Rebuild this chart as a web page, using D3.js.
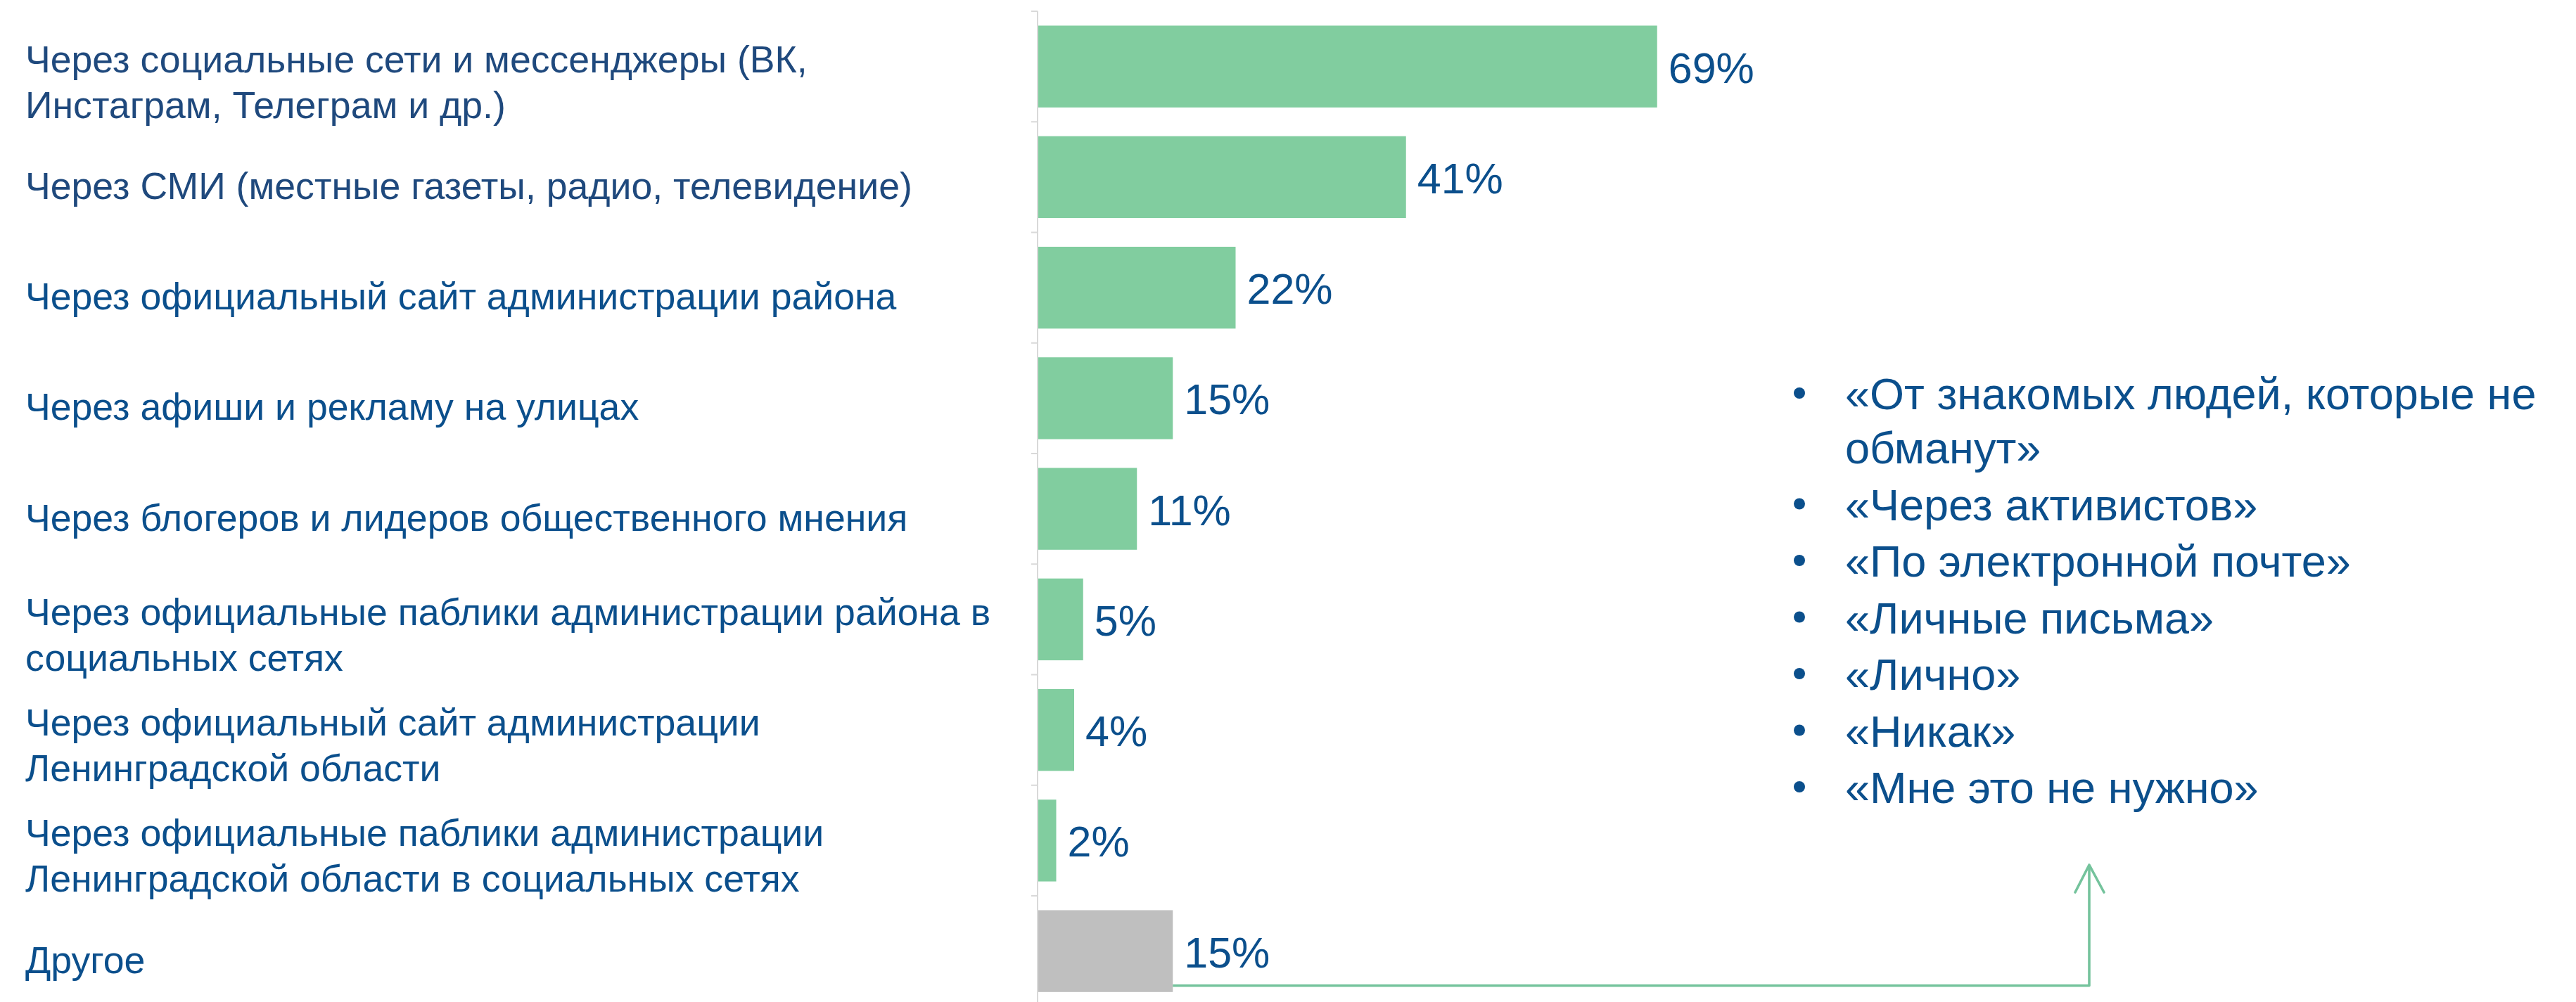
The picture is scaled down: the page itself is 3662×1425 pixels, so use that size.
<!DOCTYPE html>
<html>
<head>
<meta charset="utf-8">
<script src="https://cdn.jsdelivr.net/npm/d3@7"></script>
<style>
  body { margin: 0; background: #fff; }
  text { font-family: "Liberation Sans", Arial, sans-serif; }
</style>
</head>
<body>
<div class="chart"></div>
<script>
// Horizontal bar chart: how respondents get news, % of answers.
// Category names keep their manual line breaks ("\n").
var categories = [
  'Через социальные сети и мессенджеры (ВК,\nИнстаграм, Телеграм и др.)',
  'Через СМИ (местные газеты, радио, телевидение)',
  'Через официальный сайт администрации района',
  'Через афиши и рекламу на улицах',
  'Через блогеров и лидеров общественного мнения',
  'Через официальные паблики администрации района в\nсоциальных сетях',
  'Через официальный сайт администрации\nЛенинградской области',
  'Через официальные паблики администрации\nЛенинградской области в социальных сетях',
  'Другое'
]
var values = [69, 41, 22, 15, 11, 5, 4, 2, 15]
var otherCategory = 'Другое'

// open answers behind "Другое"
var otherAnswers = [
  '«От знакомых людей, которые не\nобманут»',
  '«Через активистов»',
  '«По электронной почте»',
  '«Личные письма»',
  '«Лично»',
  '«Никак»',
  '«Мне это не нужно»'
]

var W = 3662, H = 1425
var GREEN = '#81cd9f', GREY = '#bfbfbf', ARROW = '#74c39c'
var NAVY = '#1f497d', BLUE = '#0b4f8c', AXIS = '#d9d9d9'

var svg = d3.select('.chart').append('svg')
  .attr('width', W).attr('height', H)

var margin = {top: 16, left: 1476}
var c = svg.append('g').attr('transform', 'translate(' + margin.left + ',' + margin.top + ')')

// ---- scales ---- (1% ~ 12.75px; band step ~157px)
var x = d3.scaleLinear().domain([0, 100]).range([0, 1275])
var y = d3.scaleBand().domain(categories)
  .range([0, categories.length * 157.25])
  .paddingInner(0.26).paddingOuter(0.13)
var bw = y.bandwidth()

// ---- axis: thin grey line with ticks at the band boundaries ----
c.append('line')
  .attr('x1', -1).attr('x2', -1).attr('y1', 0).attr('y2', H)
  .attr('stroke', AXIS).attr('stroke-width', 2)
c.selectAll('line.tick').data(categories).enter().append('line')
  .attr('class', 'tick')
  .attr('x1', -10).attr('x2', -1)
  .attr('y1', function(d){ return y(d) - y.paddingOuter() * y.step() })
  .attr('y2', function(d){ return y(d) - y.paddingOuter() * y.step() })
  .attr('stroke', AXIS).attr('stroke-width', 2)

// ---- bars ----
c.selectAll('rect.bar').data(categories).enter().append('rect')
  .attr('class', 'bar')
  .attr('x', 0)
  .attr('y', function(d){ return y(d) })
  .attr('width', function(d, i){ return x(values[i]) })
  .attr('height', bw)
  .attr('fill', function(d){ return d == otherCategory ? GREY : GREEN })

// ---- value labels ----
c.selectAll('text.val').data(categories).enter().append('text')
  .attr('class', 'val')
  .attr('x', function(d, i){ return x(values[i]) + 16 })
  .attr('y', function(d){ return y(d) + bw / 2 + 23 })
  .attr('font-size', 61)
  .attr('fill', BLUE)
  .text(function(d, i){ return values[i] + '%' })

// ---- category labels (left, multi-line) ----
var LABEL_SIZE = 53.6, LABEL_LH = 65
categories.forEach(function(d, i){
  var lines = d.split('\n')
  var base = margin.top + y(d) + bw / 2 + 31 - (lines.length - 1) * 23
  var t = svg.append('text')
    .attr('x', 36).attr('y', base)
    .attr('font-size', LABEL_SIZE)
    .attr('fill', i < 2 ? NAVY : BLUE)
  lines.forEach(function(l, k){
    t.append('tspan').attr('x', 36).attr('y', base + k * LABEL_LH).text(l)
  })
})

// ---- arrow from "Другое" up to the list of open answers ----
var arrowX = 2970, arrowTip = 1230
var ay = margin.top + y(otherCategory) + bw - 9
svg.append('path')
  .attr('d', 'M' + (margin.left + x(values[categories.indexOf(otherCategory)])) + ',' + ay +
    'H' + arrowX + 'V' + arrowTip)
  .attr('fill', 'none').attr('stroke', ARROW).attr('stroke-width', 3.6)
  .attr('stroke-linejoin', 'round')
svg.append('path')
  .attr('d', 'M' + (arrowX - 20) + ',' + (arrowTip + 39) + 'L' + arrowX + ',' + arrowTip +
    'L' + (arrowX + 21) + ',' + (arrowTip + 39))
  .attr('fill', 'none').attr('stroke', ARROW).attr('stroke-width', 3.6)
  .attr('stroke-linecap', 'round').attr('stroke-linejoin', 'round')

// ---- bulleted list ----
var BUL_X = 2558, TXT_X = 2623, LIST_TOP = 582, LIST_LH = 77, ITEM_GAP = 3.5
var by = LIST_TOP
var list = svg.append('g')
otherAnswers.forEach(function(s){
  var lines = s.split('\n')
  list.append('circle')
    .attr('cx', BUL_X).attr('cy', by - 23).attr('r', 8).attr('fill', BLUE)
  lines.forEach(function(l, k){
    list.append('text')
      .attr('x', TXT_X).attr('y', by + k * LIST_LH)
      .attr('font-size', 63).attr('fill', BLUE)
      .text(l)
  })
  by += lines.length * LIST_LH + ITEM_GAP
})
</script>
</body>
</html>
